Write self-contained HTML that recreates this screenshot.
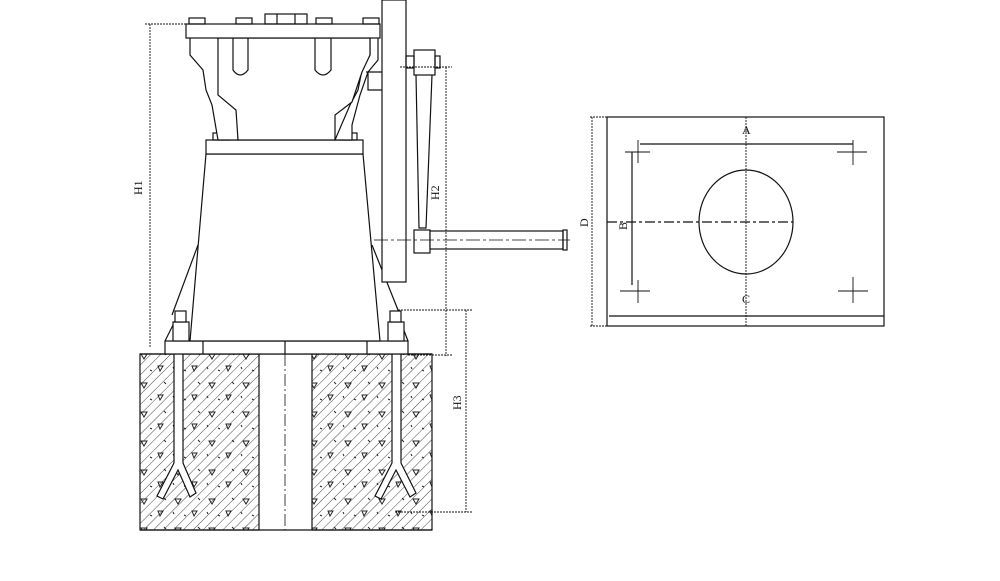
<!DOCTYPE html>
<html><head><style>
html,body{margin:0;padding:0;background:#fff;}
svg{display:block;}
text{font-family:"Liberation Serif",serif;font-size:12px;fill:#111;}
</style></head><body>
<svg width="1000" height="581" viewBox="0 0 1000 581" xmlns="http://www.w3.org/2000/svg">
<defs>
<pattern id="h" width="7" height="7" patternUnits="userSpaceOnUse" patternTransform="rotate(45)">
<line x1="0" y1="0" x2="0" y2="7" stroke="#333" stroke-width="0.9"/>
</pattern>
<pattern id="t" width="34" height="29" patternUnits="userSpaceOnUse">
<path d="M5 6 l6 0 l-3 5 z M22 18 l5 0 l-3 5 z M14 22 l2 1 M28 5 l2 2 M3 19 l1 2" fill="none" stroke="#222" stroke-width="1"/>
</pattern>
</defs>
<g fill="none" stroke="#111" stroke-width="1.2">
<!-- foundation -->
<rect x="140" y="354" width="119" height="176" fill="url(#h)"/>
<rect x="312" y="354" width="120" height="176" fill="url(#h)"/>
<rect x="140" y="354" width="119" height="176" fill="url(#t)" stroke="none"/>
<rect x="312" y="354" width="120" height="176" fill="url(#t)" stroke="none"/>
<line x1="140" y1="354" x2="432" y2="354"/>
<line x1="140" y1="530" x2="432" y2="530"/>
<line x1="285" y1="354" x2="285" y2="530" stroke-dasharray="12,3,2,3" stroke-width="0.8"/>
<g fill="#fff">
<rect x="174" y="354" width="9" height="110"/>
<rect x="392" y="354" width="9" height="110"/>
<path d="M174 463 L157 496 L163 499 L178 470 L190 497 L196 493 L183 463"/>
<path d="M392 463 L375 496 L381 499 L396 470 L410 497 L416 493 L401 463"/>
</g>
<!-- base plate -->
<rect x="165" y="341" width="243" height="13" fill="#fff"/>
<line x1="203" y1="341" x2="203" y2="354"/><line x1="367" y1="341" x2="367" y2="354"/>
<line x1="285" y1="341" x2="285" y2="354"/>
<!-- cone -->
<path d="M206 154 L363 154 L380 341 L190 341 Z" fill="#fff"/>
<line x1="172" y1="315" x2="198" y2="245"/><line x1="400" y1="315" x2="372" y2="245"/>
<line x1="165" y1="341" x2="178" y2="315"/><line x1="408" y1="341" x2="398" y2="315"/>
<rect x="173" y="322" width="16" height="19" fill="#fff"/><rect x="175" y="311" width="11" height="11" fill="#fff"/>
<rect x="388" y="322" width="16" height="19" fill="#fff"/><rect x="390" y="311" width="11" height="11" fill="#fff"/>
<rect x="206" y="140" width="157" height="14" fill="#fff"/>
<rect x="213" y="133" width="16" height="7"/><rect x="341" y="133" width="16" height="7"/>
<!-- upper housing -->
<path d="M190 38 L190 55 L203 70 L206 90 L212 105 L218 140 L238 140 L238 125 L236 110 L220 95 L218 38" fill="#fff"/>
<path d="M370 38 L370 55 L362 70 L358 90 L350 105 L335 140 L352 140 L352 125 L356 110 L360 95 L368 72 L378 60 L378 38" fill="#fff"/>
<path d="M218 38 L218 95 L236 110 L238 140 L335 140 L335 115 L352 102 L362 72 L370 55 L370 38 Z" fill="#fff"/>
<path d="M233 38 L233 70 Q240 80 248 70 L248 38"/>
<path d="M315 38 L315 70 Q323 80 331 70 L331 38"/>
<rect x="186" y="24" width="194" height="14" fill="#fff"/>
<rect x="189" y="18" width="16" height="6"/><rect x="236" y="18" width="16" height="6"/>
<rect x="316" y="18" width="16" height="6"/><rect x="363" y="18" width="16" height="6"/>
<rect x="265" y="14" width="42" height="10"/>
<line x1="277" y1="14" x2="277" y2="24"/><line x1="295" y1="14" x2="295" y2="24"/>
<!-- gearbox flange -->
<rect x="382" y="0" width="24" height="282" fill="#fff"/>
<path d="M366 72 L382 72 M368 72 L368 90 L382 90"/>
<!-- handle -->
<rect x="414" y="50" width="21" height="25" fill="#fff"/>
<rect x="406" y="56" width="8" height="12"/><rect x="435" y="56" width="5" height="12"/>
<path d="M416 75 L419 228 L426 228 L432 75"/>
<rect x="414" y="230" width="16" height="23" fill="#fff"/>
<rect x="430" y="231" width="133" height="18" fill="#fff"/>
<rect x="563" y="230" width="4" height="20"/>
<line x1="374" y1="240" x2="570" y2="240" stroke-dasharray="14,3,3,3" stroke-width="0.8"/>
<!-- dimensions -->
<g stroke-width="0.9" stroke-dasharray="2,1">
<line x1="145" y1="24" x2="186" y2="24"/>
<line x1="150" y1="24" x2="150" y2="347"/>
<line x1="400" y1="67" x2="452" y2="67"/>
<line x1="446" y1="67" x2="446" y2="356"/>
<line x1="408" y1="355" x2="452" y2="355"/>
<line x1="398" y1="310" x2="472" y2="310"/>
<line x1="466" y1="310" x2="466" y2="512"/>
<line x1="395" y1="512" x2="472" y2="512"/>
</g>
<!-- right plan view -->
<rect x="607" y="117" width="277" height="209"/>
<g stroke-width="0.9" stroke-dasharray="2,1">
<line x1="592" y1="117" x2="592" y2="326"/>
<line x1="590" y1="117" x2="607" y2="117"/><line x1="590" y1="326" x2="607" y2="326"/>
<line x1="746" y1="117" x2="746" y2="326"/>
</g>
<line x1="640" y1="144" x2="853" y2="144"/>
<line x1="632" y1="152" x2="632" y2="285"/>
<line x1="609" y1="316" x2="884" y2="316"/>
<line x1="607" y1="222" x2="793" y2="222" stroke-dasharray="10,3,3,3"/>
<ellipse cx="746" cy="222" rx="47" ry="52"/>
<g stroke-width="0.9">
<line x1="625" y1="152" x2="650" y2="152"/><line x1="638" y1="140" x2="638" y2="163"/>
<line x1="837" y1="152" x2="867" y2="152"/><line x1="853" y1="140" x2="853" y2="165"/>
<line x1="620" y1="291" x2="650" y2="291"/><line x1="638" y1="280" x2="638" y2="303"/>
<line x1="838" y1="291" x2="868" y2="291"/><line x1="853" y1="277" x2="853" y2="303"/>
</g>
</g>
<text x="0" y="0" transform="translate(142,195) rotate(-90)">H1</text>
<text x="0" y="0" transform="translate(439,200) rotate(-90)">H2</text>
<text x="0" y="0" transform="translate(461,410) rotate(-90)">H3</text>
<text x="0" y="0" transform="translate(588,227) rotate(-90)">D</text>
<text x="0" y="0" transform="translate(627,230) rotate(-90)">B</text>
<text x="742" y="134">A</text>
<text x="742" y="303">C</text>
</svg>
</body></html>
